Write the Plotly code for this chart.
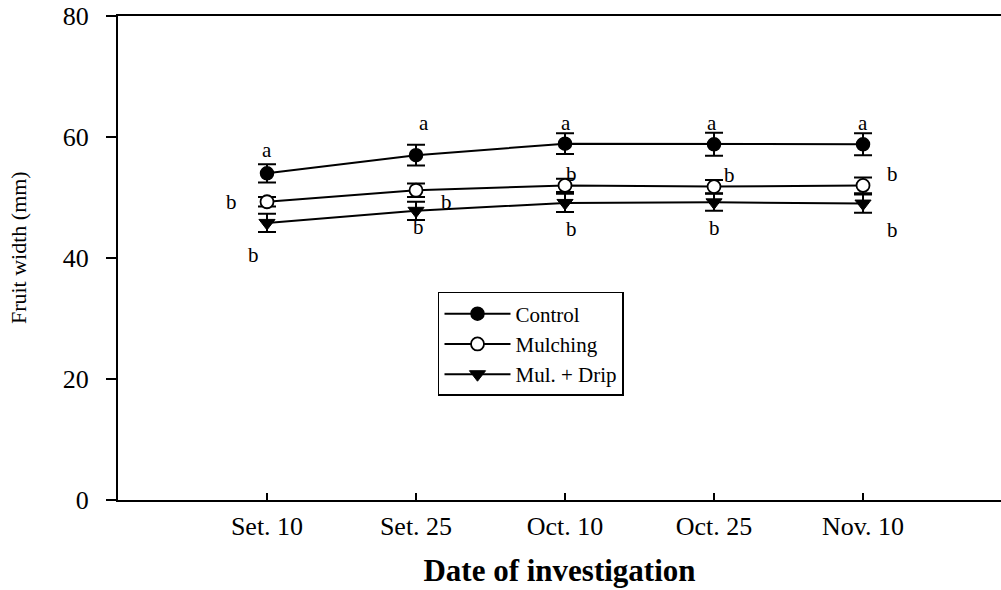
import plotly.graph_objects as go

# Investigation dates (x categories)
dates = ["Set. 10", "Set. 25", "Oct. 10", "Oct. 25", "Nov. 10"]

# Fruit width means (mm) and standard errors per treatment
control = [54.0, 57.0, 58.9, 58.8, 58.8]
control_err = [1.5, 1.7, 1.7, 1.9, 1.8]
mulching = [49.3, 51.2, 52.0, 51.8, 52.0]
mulching_err = [0.8, 1.1, 1.1, 1.1, 1.3]
mul_drip = [45.8, 47.8, 49.1, 49.2, 49.0]
mul_drip_err = [1.5, 1.5, 1.5, 1.4, 1.5]

# Mean separation letters
control_letters = ["a", "a", "a", "a", "a"]
mulching_letters = ["b", "b", "b", "b", "b"]
mul_drip_letters = ["b", "b", "b", "b", "b"]

y_ticks = [0, 20, 40, 60, 80]

SERIF = "Liberation Serif, Times New Roman, serif"
xpos = list(range(1, len(dates) + 1))

fig = go.Figure()

series = [
    ("Control", control, control_err, dict(symbol="circle", color="black", size=13,
                                          line=dict(color="black", width=1.5))),
    ("Mulching", mulching, mulching_err, dict(symbol="circle", color="white", size=13,
                                             line=dict(color="black", width=1.8))),
    ("Mul. + Drip", mul_drip, mul_drip_err, dict(symbol="triangle-down", color="black", size=14,
                                                line=dict(color="black", width=1))),
]

for name, vals, errs, marker in series:
    fig.add_trace(go.Scatter(
        x=xpos, y=vals, name=name, mode="lines+markers",
        line=dict(color="black", width=2),
        marker=marker,
        error_y=dict(type="data", array=errs, visible=True,
                     color="black", thickness=2, width=9),
    ))

# Letter placement offsets (pixels) around each point
letter_offsets = {
    "control": [(0, 23), (8, 32), (1, 21), (-2, 21), (0, 21)],
    "mulching": [(-36, 0), (30, -12), (6, 11), (15, 12), (29, 11)],
    "mul_drip": [(-14, -32), (2, -16), (6, -26), (0, -26), (29, -26)],
}
for key, vals, letters in [("control", control, control_letters),
                           ("mulching", mulching, mulching_letters),
                           ("mul_drip", mul_drip, mul_drip_letters)]:
    for i, (v, t) in enumerate(zip(vals, letters)):
        dx, dy = letter_offsets[key][i]
        fig.add_annotation(x=xpos[i], y=v, text=t, showarrow=False,
                           xshift=dx, yshift=dy,
                           font=dict(family=SERIF, size=21, color="black"))

# Y-axis title placed beside the tick labels
fig.add_annotation(xref="paper", yref="paper", x=-0.112, y=0.5207,
                   text="Fruit width (mm)", textangle=-90, showarrow=False,
                   xanchor="center", yanchor="middle",
                   font=dict(family=SERIF, size=22, color="black"))

fig.update_layout(
    width=1001, height=590,
    margin=dict(l=118, r=0, t=16, b=90),
    paper_bgcolor="white", plot_bgcolor="white",
    showlegend=True,
    legend=dict(
        x=0.3624, y=0.4298, xanchor="left", yanchor="top",
        bordercolor="black", borderwidth=1.5, bgcolor="white",
        font=dict(family=SERIF, size=21, color="black"),
        itemwidth=66, tracegroupgap=0,
    ),
    font=dict(family=SERIF, color="black"),
)

fig.update_xaxes(
    range=[0, 5.926],
    tickmode="array", tickvals=xpos, ticktext=dates,
    ticks="inside", ticklen=7, tickwidth=1.5, tickcolor="black",
    showline=True, linewidth=2, linecolor="black", mirror=True,
    showgrid=False, zeroline=False,
    tickfont=dict(family=SERIF, size=26, color="black"),
    ticklabelstandoff=2,
    title=dict(text="<b>Date of investigation</b>", standoff=19,
               font=dict(family=SERIF, size=31, color="black")),
)

fig.update_yaxes(
    range=[0, 80],
    tickmode="array", tickvals=y_ticks,
    ticks="outside", ticklen=10, tickwidth=1.5, tickcolor="black",
    showline=True, linewidth=2, linecolor="black",
    showgrid=False, zeroline=False,
    tickfont=dict(family=SERIF, size=26, color="black"),
    ticklabelstandoff=12,
)

fig.write_html("out.html")
